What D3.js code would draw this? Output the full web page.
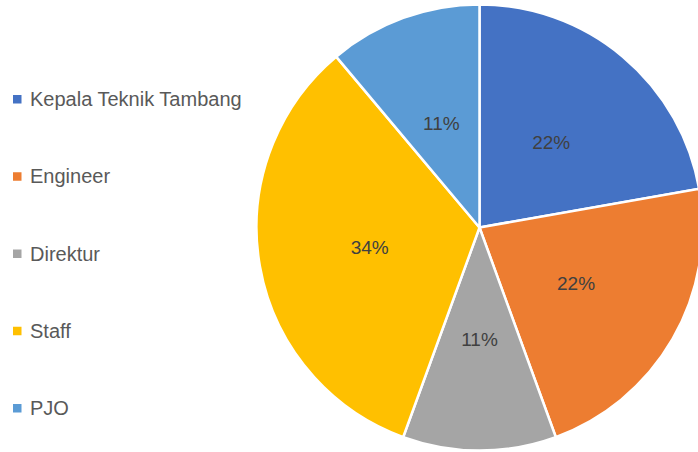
<!DOCTYPE html>
<html><head><meta charset="utf-8">
<script src="https://cdn.jsdelivr.net/npm/d3@7"></script>
<style>body{margin:0;background:#fff}</style>
</head><body>
<svg id="c" width="698" height="452"></svg>
<script>
const categories = ["Kepala Teknik Tambang","Engineer","Direktur","Staff","PJO"];
const values = [2,2,1,3,1];
const labels = ["22%","22%","11%","34%","11%"];
const colors = ["#4472C4","#ED7D31","#A5A5A5","#FFC000","#5B9BD5"];

const svg = d3.select("#c");
const cx = 479.5, cy = 227.5, R = 223;
const pie = d3.pie().sort(null).value(d=>d)(values);
const arc = d3.arc().innerRadius(0).outerRadius(R);
const g = svg.append("g").attr("transform",`translate(${cx},${cy})`);
g.selectAll("path").data(pie).join("path")
  .attr("d",arc).attr("fill",(d,i)=>colors[i])
  .attr("stroke","#fff").attr("stroke-width",2.5).attr("stroke-linejoin","round");
g.selectAll("text").data(pie).join("text")
  .attr("transform",d=>`translate(${arc.centroid(d)})`)
  .attr("text-anchor","middle").attr("dy","0.36em")
  .attr("font-family","Liberation Sans, sans-serif").attr("font-size",19)
  .attr("fill","#404040").text((d,i)=>labels[i]);

const ly = d3.scalePoint().domain(categories).range([99,408]);
const lg = svg.append("g");
lg.selectAll("rect").data(categories).join("rect")
  .attr("x",13).attr("y",d=>ly(d)-4).attr("width",8.5).attr("height",8.5)
  .attr("fill",(d,i)=>colors[i]);
lg.selectAll("text").data(categories).join("text")
  .attr("x",30).attr("y",d=>ly(d)).attr("dy","0.36em")
  .attr("font-family","Liberation Sans, sans-serif").attr("font-size",20)
  .attr("fill","#595959").text(d=>d);
</script>
</body></html>
